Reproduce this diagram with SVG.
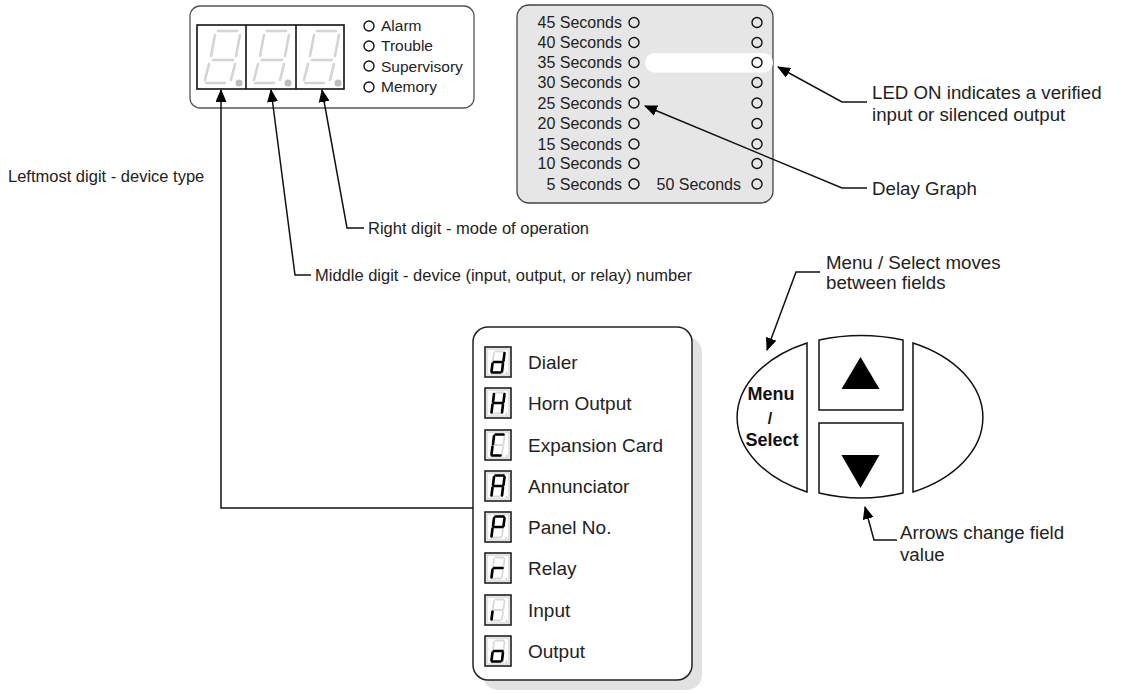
<svg xmlns="http://www.w3.org/2000/svg" xmlns:xlink="http://www.w3.org/1999/xlink" width="1124" height="694" viewBox="0 0 1124 694">
<style>
text{font-family:"Liberation Sans",Arial,sans-serif;fill:#222}
.lbl{font-size:16.5px}
.big{font-size:18.7px}
.led{font-size:15.5px}
.sec{font-size:16px;text-anchor:end}
.dev{font-size:19px}
.btn{font-size:18px;font-weight:bold;text-anchor:middle;fill:#111}
.conn{fill:none;stroke:#111;stroke-width:1.5}
.ring{fill:none;stroke:#111;stroke-width:1.4}
.ghost{stroke:#d4d4d4;stroke-width:2.6;stroke-linecap:round}
.ighost{stroke:#d8d8d8;stroke-width:1.8;stroke-linecap:round}
.on{stroke:#000;stroke-width:2.6;stroke-linecap:round}
</style>
<defs>
<marker id="ah" markerWidth="13" markerHeight="11" refX="12" refY="5.5" orient="auto" markerUnits="userSpaceOnUse">
<path d="M0,0 L13,5.5 L0,11 z" fill="#000"/>
</marker>
<g id="bigdigit">
<line class="ghost" x1="21" y1="6" x2="40" y2="6"/>
<line class="ghost" x1="18" y1="10" x2="14" y2="31"/>
<line class="ghost" x1="43" y1="10" x2="39" y2="31"/>
<line class="ghost" x1="16" y1="35" x2="36" y2="35"/>
<line class="ghost" x1="12" y1="39" x2="8" y2="55"/>
<line class="ghost" x1="38" y1="39" x2="34" y2="55"/>
<line class="ghost" x1="9" y1="58" x2="28" y2="58"/>
<circle cx="42" cy="58" r="3.5" fill="#bdbdbd"/>
</g>
<line id="sa" x1="10.5" y1="4.5" x2="18.5" y2="4.5"/>
<line id="sf" x1="9" y1="6" x2="8" y2="14"/>
<line id="sb" x1="19.5" y1="6" x2="18.5" y2="14"/>
<line id="sg" x1="9" y1="15" x2="17.5" y2="15"/>
<line id="se" x1="7.5" y1="16.5" x2="6.5" y2="24.5"/>
<line id="sc" x1="18" y1="16.5" x2="17" y2="24.5"/>
<line id="sd" x1="7" y1="25.5" x2="15.5" y2="25.5"/>
<g id="icon">
<rect x="0" y="0" width="26" height="30" fill="#fff" stroke="#111" stroke-width="1.5"/>
<rect x="2" y="2" width="22" height="26" fill="none" stroke="#bbb" stroke-width="0.8"/>
<g class="ighost">
<use xlink:href="#sa"/><use xlink:href="#sf"/><use xlink:href="#sb"/><use xlink:href="#sg"/><use xlink:href="#se"/><use xlink:href="#sc"/><use xlink:href="#sd"/>
</g>
<circle cx="21.5" cy="26" r="1" fill="#ccc"/>
</g>
</defs>

<g id="display">
<rect x="190" y="6" width="284" height="102" rx="10" fill="#fff" stroke="#555" stroke-width="1.3"/>
<rect x="197" y="25" width="147" height="64" fill="#fff" stroke="#111" stroke-width="1.6"/>
<line x1="246" y1="25" x2="246" y2="89" stroke="#111" stroke-width="1.6"/>
<line x1="296" y1="25" x2="296" y2="89" stroke="#111" stroke-width="1.6"/>
<use xlink:href="#bigdigit" x="197" y="25"/>
<use xlink:href="#bigdigit" x="246" y="25"/>
<use xlink:href="#bigdigit" x="296" y="25"/>
<circle class="ring" cx="369" cy="26" r="5"/>
<circle class="ring" cx="369" cy="46" r="5"/>
<circle class="ring" cx="369" cy="66" r="5"/>
<circle class="ring" cx="369" cy="87" r="5"/>
<text class="led" x="381" y="31">Alarm</text>
<text class="led" x="381" y="51">Trouble</text>
<text class="led" x="381" y="71.5">Supervisory</text>
<text class="led" x="381" y="92">Memory</text>
</g>

<g id="delay-panel">
<rect x="517" y="5" width="256" height="198" rx="12" fill="#e6e6e6" stroke="#444" stroke-width="1.3"/>
<rect x="645" y="53" width="128" height="19.5" rx="9.75" fill="#fff"/>
<g class="sec">
<text x="622" y="28">45 Seconds</text>
<text x="622" y="48">40 Seconds</text>
<text x="622" y="68">35 Seconds</text>
<text x="622" y="88">30 Seconds</text>
<text x="622" y="108.5">25 Seconds</text>
<text x="622" y="129">20 Seconds</text>
<text x="622" y="149.5">15 Seconds</text>
<text x="622" y="169">10 Seconds</text>
<text x="622" y="189.5">5 Seconds</text>
<text x="741" y="189.5">50 Seconds</text>
</g>
<g>
<circle class="ring" cx="634" cy="22.5" r="5"/><circle class="ring" cx="757" cy="22.5" r="5"/>
<circle class="ring" cx="634" cy="42.5" r="5"/><circle class="ring" cx="757" cy="42.5" r="5"/>
<circle class="ring" cx="634" cy="62.5" r="5"/><circle class="ring" cx="757" cy="62.5" r="5"/>
<circle class="ring" cx="634" cy="82.5" r="5"/><circle class="ring" cx="757" cy="82.5" r="5"/>
<circle class="ring" cx="634" cy="103" r="5"/><circle class="ring" cx="757" cy="103" r="5"/>
<circle class="ring" cx="634" cy="123.5" r="5"/><circle class="ring" cx="757" cy="123.5" r="5"/>
<circle class="ring" cx="634" cy="144" r="5"/><circle class="ring" cx="757" cy="144" r="5"/>
<circle class="ring" cx="634" cy="163.5" r="5"/><circle class="ring" cx="757" cy="163.5" r="5"/>
<circle class="ring" cx="634" cy="184" r="5"/><circle class="ring" cx="757" cy="184" r="5"/>
</g>
</g>

<g id="device-list">
<rect x="483" y="337" width="219" height="353" rx="15" fill="#e2e2e2"/>
<rect x="473" y="327" width="219" height="353" rx="15" fill="#fff" stroke="#222" stroke-width="1.5"/>
<g transform="translate(485,347)"><use xlink:href="#icon"/><g class="on"><use xlink:href="#sb"/><use xlink:href="#sc"/><use xlink:href="#sd"/><use xlink:href="#se"/><use xlink:href="#sg"/></g></g>
<g transform="translate(485,388)"><use xlink:href="#icon"/><g class="on"><use xlink:href="#sb"/><use xlink:href="#sc"/><use xlink:href="#se"/><use xlink:href="#sf"/><use xlink:href="#sg"/></g></g>
<g transform="translate(485,430)"><use xlink:href="#icon"/><g class="on"><use xlink:href="#sa"/><use xlink:href="#sd"/><use xlink:href="#se"/><use xlink:href="#sf"/></g></g>
<g transform="translate(485,471)"><use xlink:href="#icon"/><g class="on"><use xlink:href="#sa"/><use xlink:href="#sb"/><use xlink:href="#sc"/><use xlink:href="#se"/><use xlink:href="#sf"/><use xlink:href="#sg"/></g></g>
<g transform="translate(485,512)"><use xlink:href="#icon"/><g class="on"><use xlink:href="#sa"/><use xlink:href="#sb"/><use xlink:href="#se"/><use xlink:href="#sf"/><use xlink:href="#sg"/></g></g>
<g transform="translate(485,553)"><use xlink:href="#icon"/><g class="on"><use xlink:href="#se"/><use xlink:href="#sg"/></g></g>
<g transform="translate(485,595)"><use xlink:href="#icon"/><g class="on"><use xlink:href="#se"/></g></g>
<g transform="translate(485,636)"><use xlink:href="#icon"/><g class="on"><use xlink:href="#sc"/><use xlink:href="#sd"/><use xlink:href="#se"/><use xlink:href="#sg"/></g></g>
<text class="dev" x="528" y="369">Dialer</text>
<text class="dev" x="528" y="410">Horn Output</text>
<text class="dev" x="528" y="452">Expansion Card</text>
<text class="dev" x="528" y="493">Annunciator</text>
<text class="dev" x="528" y="534">Panel No.</text>
<text class="dev" x="528" y="575">Relay</text>
<text class="dev" x="528" y="617">Input</text>
<text class="dev" x="528" y="658">Output</text>
</g>

<g id="keypad">
<path d="M807,343 A124,82.8 0 0 0 807,492 Z" fill="#fff" stroke="#111" stroke-width="1.5"/>
<path d="M913,343 A124,82.8 0 0 1 913,492 Z" fill="#fff" stroke="#111" stroke-width="1.5"/>
<path d="M819,340 Q861,331 903,340 V410 H819 Z" fill="#fff" stroke="#111" stroke-width="1.5"/>
<path d="M819,423 H903 V493 Q861,503 819,493 Z" fill="#fff" stroke="#111" stroke-width="1.5"/>
<path d="M860.5,357 L879.5,389 L841.5,389 Z" fill="#000"/>
<path d="M841.5,455 L879.5,455 L860.5,488 Z" fill="#000"/>
<text class="btn" x="771" y="400">Menu</text>
<text class="btn" x="770" y="424" style="font-size:16px">/</text>
<text class="btn" x="772" y="446">Select</text>
</g>

<g id="connectors">
<path class="conn" d="M473,508 H221 V90" marker-end="url(#ah)"/>
<path class="conn" d="M311,275 H295 L271,90" marker-end="url(#ah)"/>
<path class="conn" d="M364,228 H347 L322,90" marker-end="url(#ah)"/>
<path class="conn" d="M867,188 H842 L645,106" marker-end="url(#ah)"/>
<path class="conn" d="M867,102 H842 L778,67" marker-end="url(#ah)"/>
<path class="conn" d="M820,272 H796 L767,350" marker-end="url(#ah)"/>
<path class="conn" d="M897,540 H874 L865,507" marker-end="url(#ah)"/>
</g>

<g id="labels">
<text class="lbl" x="8" y="182">Leftmost digit - device type</text>
<text class="lbl" x="368" y="234">Right digit - mode of operation</text>
<text class="lbl" x="315" y="281">Middle digit - device (input, output, or relay) number</text>
<text class="big" x="872" y="98.5">LED ON indicates a verified</text>
<text class="big" x="872" y="120.5">input or silenced output</text>
<text class="big" x="872" y="194.5">Delay Graph</text>
<text class="big" x="826" y="268.5">Menu / Select moves</text>
<text class="big" x="826" y="289">between fields</text>
<text class="big" x="900" y="538.5">Arrows change field</text>
<text class="big" x="900" y="560.5">value</text>
</g>
</svg>
